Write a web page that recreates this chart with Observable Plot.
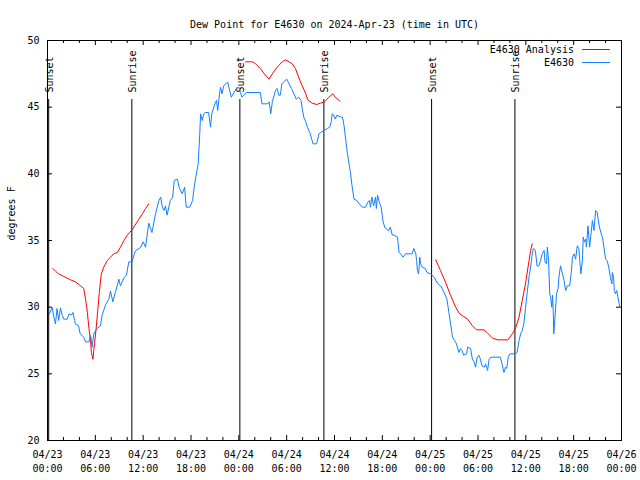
<!DOCTYPE html>
<html><head><meta charset="utf-8">
<script src="https://cdn.jsdelivr.net/npm/d3@7"></script>
<script src="https://cdn.jsdelivr.net/npm/@observablehq/plot@0.6"></script>
<style>body{margin:0;background:#fff}</style>
</head><body><div id="chart"></div>
<script>
const chartTitle = "Dew Point for E4630 on 2024-Apr-23 (time in UTC)";
const yLabel = "degrees F";
const seriesNames = ["E4630 Analysis", "E4630"];
const seriesColors = ["#ff0000", "#1080ff"];
const startTime = "2024-04-23T00:00:00Z";
const endTime = "2024-04-26T00:00:00Z";
const yTicks = [20, 25, 30, 35, 40, 45, 50];

// E4630 observations: hours since 04/23 00:00 UTC and dew point (F)
const stationHours = [0.25,0.58,0.8,1.0,1.2,1.4,1.63,1.84,2.05,2.47,2.7,3.0,3.2,3.4,3.5,3.9,4.1,4.55,4.77,5.2,5.4,5.6,5.8,6.2,6.65,6.85,7.3,7.7,7.9,8.2,8.5,8.75,8.95,9.15,9.6,9.9,10.2,10.6,11.0,11.7,12.0,12.3,12.7,13.1,13.55,13.97,14.2,14.4,14.6,14.8,15.0,15.4,15.7,15.9,16.3,16.5,16.9,17.2,17.4,17.85,18.2,18.4,18.6,18.9,19.1,19.2,19.4,19.6,19.8,20.2,20.45,20.6,21.0,21.2,21.35,21.5,21.7,21.9,22.1,22.4,22.6,22.75,23.05,23.4,23.7,24.0,24.2,24.4,24.6,24.97,26.7,26.9,27.6,27.8,28.0,28.2,28.6,28.8,29.0,29.2,29.4,29.65,30.0,30.3,30.6,31.0,31.2,31.5,31.8,31.95,32.15,32.4,32.6,32.9,33.2,33.3,33.75,34.05,34.25,34.65,35.1,35.4,35.6,35.7,35.9,36.1,36.3,36.8,37.0,37.2,37.4,37.6,38.0,38.2,38.45,38.8,39.1,39.5,39.9,40.2,40.4,40.5,40.7,40.9,41.15,41.25,41.4,41.6,41.85,42.1,42.3,42.6,42.8,43.0,43.25,43.5,43.9,44.1,44.3,44.6,44.9,45.75,45.95,46.2,46.3,46.4,46.55,46.7,46.8,47.0,47.4,47.6,48.05,48.5,48.9,49.3,49.5,49.9,50.1,50.35,50.6,50.8,51.07,51.3,51.6,51.8,52.0,52.2,52.57,52.7,53.07,53.3,53.5,53.7,53.9,54.1,54.3,54.5,54.8,54.95,55.2,55.4,55.6,56.8,57.0,57.25,57.45,57.6,57.8,58.0,58.7,58.9,59.15,59.35,59.55,59.75,59.97,60.2,60.4,60.6,60.8,60.95,61.2,61.4,61.65,61.85,62.05,62.3,62.4,62.6,62.7,62.85,63.0,63.1,63.25,63.35,63.45,63.5,63.6,63.85,64.05,64.15,64.35,64.55,64.8,65.0,65.2,65.5,65.7,65.85,66.05,66.25,66.45,66.65,66.9,67.1,67.2,67.35,67.5,67.6,67.8,68.0,68.2,68.35,68.55,68.75,68.95,69.2,69.4,69.6,69.8,70.0,70.2,70.4,70.6,70.8,70.85,71.0,71.1,71.25,71.4,71.55,71.8];
const stationValues = [29.5,30.0,29.25,28.75,29.9,29.0,29.95,29.4,29.1,29.1,29.5,29.4,29.6,29.0,28.75,28.6,28.0,27.75,27.4,27.4,27.9,27.0,28.0,28.4,28.6,29.4,30.2,30.6,31.2,30.4,31.1,31.6,32.1,31.6,32.2,32.4,33.4,33.4,34.2,34.5,34.9,34.5,36.3,35.6,37.0,38.0,38.25,37.5,37.25,37.6,36.9,38.0,38.25,39.5,39.6,39.0,38.5,39.0,37.5,37.5,38.0,39.0,39.75,40.75,43.0,44.5,44.0,44.5,44.6,44.6,43.5,44.5,45.25,45.5,44.75,45.6,46.5,46.0,46.6,46.75,46.9,46.5,45.75,46.1,46.4,46.5,46.1,45.75,45.9,46.1,46.1,45.25,45.25,45.4,44.5,45.4,46.25,46.4,45.9,45.9,46.75,46.9,47.1,46.75,46.4,45.9,45.6,45.75,45.5,44.9,44.25,43.9,43.5,43.1,42.5,42.25,42.25,43.0,43.1,43.25,43.4,43.5,43.9,44.5,44.4,44.1,44.4,44.25,44.25,43.6,42.6,41.6,40.1,39.1,38.1,38.0,37.75,37.5,37.5,37.9,38.0,37.5,38.25,37.6,38.25,37.4,38.4,37.9,37.5,36.4,36.0,35.8,35.75,36.0,35.4,35.4,35.25,34.1,34.0,33.75,34.0,34.0,34.4,34.0,33.5,32.75,32.5,33.75,33.25,33.0,32.9,32.6,32.5,32.25,31.8,31.6,31.4,30.9,30.6,29.6,28.6,27.75,27.5,27.25,26.6,26.9,26.75,26.4,26.5,27.0,26.9,26.1,25.9,25.5,26.25,26.4,26.1,25.6,25.5,25.75,25.25,26.1,26.25,26.25,25.8,25.1,25.5,25.4,26.25,26.5,26.5,26.6,27.5,28.0,28.25,28.75,30.0,31.25,32.25,33.0,34.0,34.4,34.25,33.1,33.1,33.5,34.0,34.25,33.4,33.25,34.5,33.5,31.0,30.75,30.0,30.9,29.5,28.0,28.75,31.0,31.4,32.25,33.1,32.6,32.0,31.25,31.6,31.6,32.6,33.75,34.0,33.6,34.6,34.4,32.5,33.5,35.25,34.9,35.1,34.5,36.1,34.5,35.6,36.5,35.75,37.25,37.1,36.1,35.6,35.25,34.5,33.6,33.5,33.0,32.25,31.75,32.6,32.25,31.25,31.0,31.25,30.75,30.0];

// E4630 Analysis: three separate runs
const analysisHours = [0.67,1.0,1.4,2.05,2.9,3.5,4.15,4.55,4.8,5.0,5.2,5.4,5.5,5.7,5.8,5.9,6.1,6.3,6.5,6.75,7.05,7.5,7.9,8.3,8.75,9.15,9.6,10.0,10.6,11.25,11.9,12.3,12.7,
  24.85,25.7,26.1,26.7,27.2,27.8,28.2,28.8,29.45,29.85,30.3,30.7,31.1,31.5,31.95,32.4,32.65,33.2,33.75,34.25,34.75,35.3,35.8,36.1,36.7,
  48.7,49.3,49.9,50.55,51.2,51.7,52.2,52.7,53.3,53.8,54.75,55.2,55.8,56.4,57.75,58.3,58.7,59.15,59.55,60.0,60.4,60.6,60.8];
const analysisValues = [32.9,32.7,32.5,32.3,32.05,31.9,31.6,31.4,30.5,29.6,28.4,27.5,26.6,26.1,26.75,27.25,28.4,29.75,31.1,32.5,33.0,33.5,33.75,34.0,34.1,34.5,35.0,35.4,35.8,36.4,37.0,37.4,37.75,
  48.4,48.4,48.25,47.9,47.5,47.1,47.5,48.0,48.4,48.55,48.4,48.25,47.9,47.25,46.6,46.0,45.55,45.3,45.2,45.3,45.4,45.75,46.0,45.75,45.45,
  33.55,32.75,31.9,30.9,30.0,29.5,29.3,29.1,28.6,28.3,28.3,28.05,27.7,27.55,27.55,28.0,28.4,29.25,30.5,31.9,33.5,34.25,34.75];
const analysisRun = [...Array(33).fill(1), ...Array(25).fill(2), ...Array(23).fill(3)];

const eventLabels = ["Sunset", "Sunrise", "Sunset", "Sunrise", "Sunset", "Sunrise"];
const eventHours = [0.15, 10.58, 24.13, 34.67, 48.18, 58.63];

const t0 = new Date(startTime), t1 = new Date(endTime);
const toDate = h => new Date(+t0 + h * 3600e3);
const station = stationHours.map((h, i) => ({t: toDate(h), v: stationValues[i]}));
const analysis = analysisHours.map((h, i) => ({t: toDate(h), v: analysisValues[i], run: analysisRun[i]}));
const events = eventHours.map((h, i) => ({t: toDate(h), label: eventLabels[i]}));

const W = 640, H = 480, mL = 47, mR = 19, mT = 40, mB = 40;
const fw = W - mL - mR, fh = H - mT - mB;
const majorTicks = d3.utcHour.every(6).range(t0, new Date(+t1 + 1));
const minorTicks = d3.utcHour.every(2).range(t0, new Date(+t1 + 1)).filter(d => d.getUTCHours() % 6 !== 0);

function legend(index, scales, values, dims) {
  const g = d3.create("svg:g").attr("font-family", "'DejaVu Sans Mono', monospace").attr("font-size", 10);
  const xr = dims.width - dims.marginRight;
  seriesNames.forEach((name, i) => {
    const y = dims.marginTop + 9.5 + i * 13;
    g.append("text").attr("x", xr - 47).attr("y", y).attr("dy", "0.35em").attr("text-anchor", "end").attr("fill", "black").text(name);
    g.append("line").attr("x1", xr - 39).attr("x2", xr - 11).attr("y1", y).attr("y2", y).attr("stroke", seriesColors[i]).attr("stroke-width", 1);
  });
  return g.node();
}

const chart = Plot.plot({
  width: W, height: H,
  marginLeft: mL, marginRight: mR, marginTop: mT, marginBottom: mB,
  style: {fontFamily: "'DejaVu Sans Mono', monospace", fontSize: "10px", background: "#fff", color: "#000"},
  x: {type: "utc", domain: [t0, t1]},
  y: {domain: [20, 50]},
  marks: [
    Plot.axisX(majorTicks, {tickSize: 0, tickPadding: 7, tickFormat: d3.utcFormat("%m/%d\n%H:%M"), lineHeight: 1.45, label: null, fill: "black"}),
    Plot.axisY(yTicks, {tickSize: 0, tickPadding: 8, label: null, fill: "black"}),
    Plot.tickX(minorTicks, {x: d => d, insetTop: fh - 3, stroke: "black"}),
    Plot.tickX(minorTicks, {x: d => d, insetBottom: fh - 3, stroke: "black"}),
    Plot.tickX(majorTicks, {x: d => d, insetTop: fh - 5, stroke: "black"}),
    Plot.tickX(majorTicks, {x: d => d, insetBottom: fh - 5, stroke: "black"}),
    Plot.tickY(yTicks, {y: d => d, insetRight: fw - 5, stroke: "black"}),
    Plot.tickY(yTicks, {y: d => d, insetLeft: fw - 5, stroke: "black"}),
    Plot.ruleX(events, {x: "t", insetTop: 59, stroke: "black", strokeWidth: 1}),
    Plot.text(events, {x: "t", text: "label", frameAnchor: "top", dy: 52, dx: -3, rotate: -90, textAnchor: "start", fill: "black"}),
    Plot.line(analysis, {x: "t", y: "v", z: "run", stroke: seriesColors[0], strokeWidth: 1}),
    Plot.line(station, {x: "t", y: "v", stroke: seriesColors[1], strokeWidth: 1}),
    Plot.frame({stroke: "black"}),
    Plot.text([chartTitle], {frameAnchor: "top", dy: -20, fill: "black"}),
    Plot.text([yLabel], {frameAnchor: "left", dx: -36, rotate: -90, fill: "black"}),
    legend
  ]
});
document.getElementById("chart").append(chart);
</script>
</body></html>
